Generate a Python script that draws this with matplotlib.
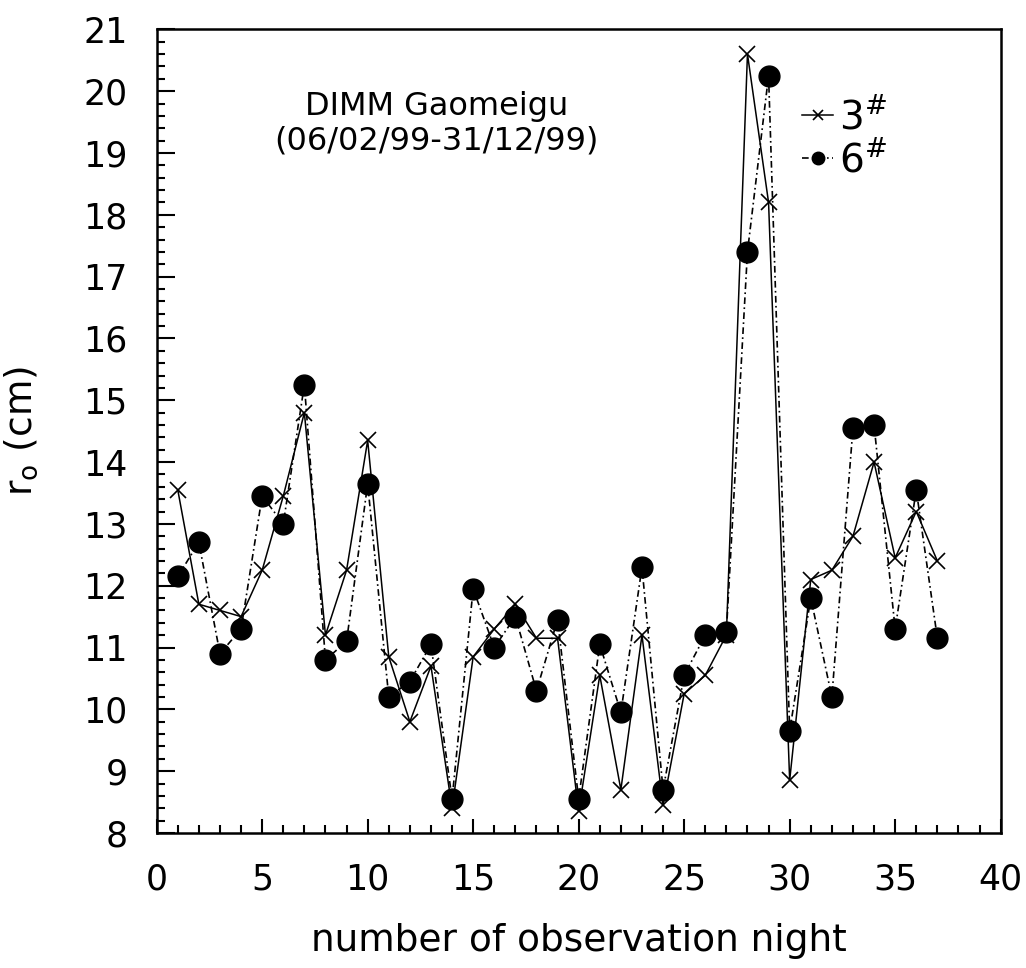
import numpy as np
import matplotlib
matplotlib.use('Agg')
import matplotlib.pyplot as plt
from matplotlib.ticker import MultipleLocator

plt.rcParams['font.family'] = ['DejaVu Sans']
plt.rcParams['mathtext.fontset'] = 'dejavusans'

# observation nights
nights = list(range(1, 38))

# r0 values (cm)
r0_3 = [13.55, 11.7, 11.6, 11.5, 12.25, 13.45, 14.8, 11.2, 12.25, 14.35,
        10.85, 9.8, 10.7, 8.4, 10.85, 11.3, 11.7, 11.15, 11.15, 8.35,
        10.55, 8.7, 11.2, 8.45, 10.25, 10.55, 11.2, 20.6, 18.2, 8.85,
        12.1, 12.25, 12.8, 14.0, 12.45, 13.2, 12.4]
r0_6 = [12.15, 12.7, 10.9, 11.3, 13.45, 13.0, 15.25, 10.8, 11.1, 13.65,
        10.2, 10.45, 11.05, 8.55, 11.95, 11.0, 11.5, 10.3, 11.45, 8.55,
        11.05, 9.95, 12.3, 8.7, 10.55, 11.2, 11.25, 17.4, 20.25, 9.65,
        11.8, 10.2, 14.55, 14.6, 11.3, 13.55, 11.15]

fig = plt.figure(figsize=(10.26, 9.68), dpi=100)
ax = fig.add_axes([0.1527, 0.1395, 0.8226, 0.8302])

ax.plot(nights, r0_3, color='black', linestyle='-', linewidth=1.1,
        marker='x', markersize=11, markeredgewidth=1.2, label=r'3$^{\#}$')
ax.plot(nights, r0_6, color='black', linestyle=(0, (4, 2, 1, 2)), linewidth=1.2,
        marker='o', markersize=15, label=r'6$^{\#}$')

ax.set_xlim(0, 40)
ax.set_ylim(8, 21)
ax.xaxis.set_major_locator(MultipleLocator(5))
ax.xaxis.set_minor_locator(MultipleLocator(1))
ax.yaxis.set_major_locator(MultipleLocator(1))
ax.yaxis.set_minor_locator(MultipleLocator(0.2))

ax.tick_params(axis='both', which='both', direction='in', top=False, right=False,
               width=1.5, labelsize=25, pad=21)
ax.tick_params(axis='y', which='major', length=13)
ax.tick_params(axis='x', which='major', length=10)
ax.tick_params(axis='both', which='minor', length=6)
for sp in ax.spines.values():
    sp.set_linewidth(1.8)

ax.set_xlabel('number of observation night', fontsize=27)
ax.xaxis.set_label_coords(0.5, -0.112)
ax.set_ylabel(r'r$_{\rm o}$ (cm)', fontsize=27)
ax.yaxis.set_label_coords(-0.138, 0.5)

ax.text(0.332, 0.883, 'DIMM Gaomeigu\n(06/02/99-31/12/99)', transform=ax.transAxes,
        ha='center', va='center', fontsize=23, linespacing=1.15)

ax.legend(loc='upper left', bbox_to_anchor=(0.765, 0.915), frameon=False,
          fontsize=28, handlelength=0.8, handletextpad=0.15, labelspacing=0.1,
          borderpad=0, borderaxespad=0, markerscale=0.6)

fig.savefig('out.png', dpi=100)
